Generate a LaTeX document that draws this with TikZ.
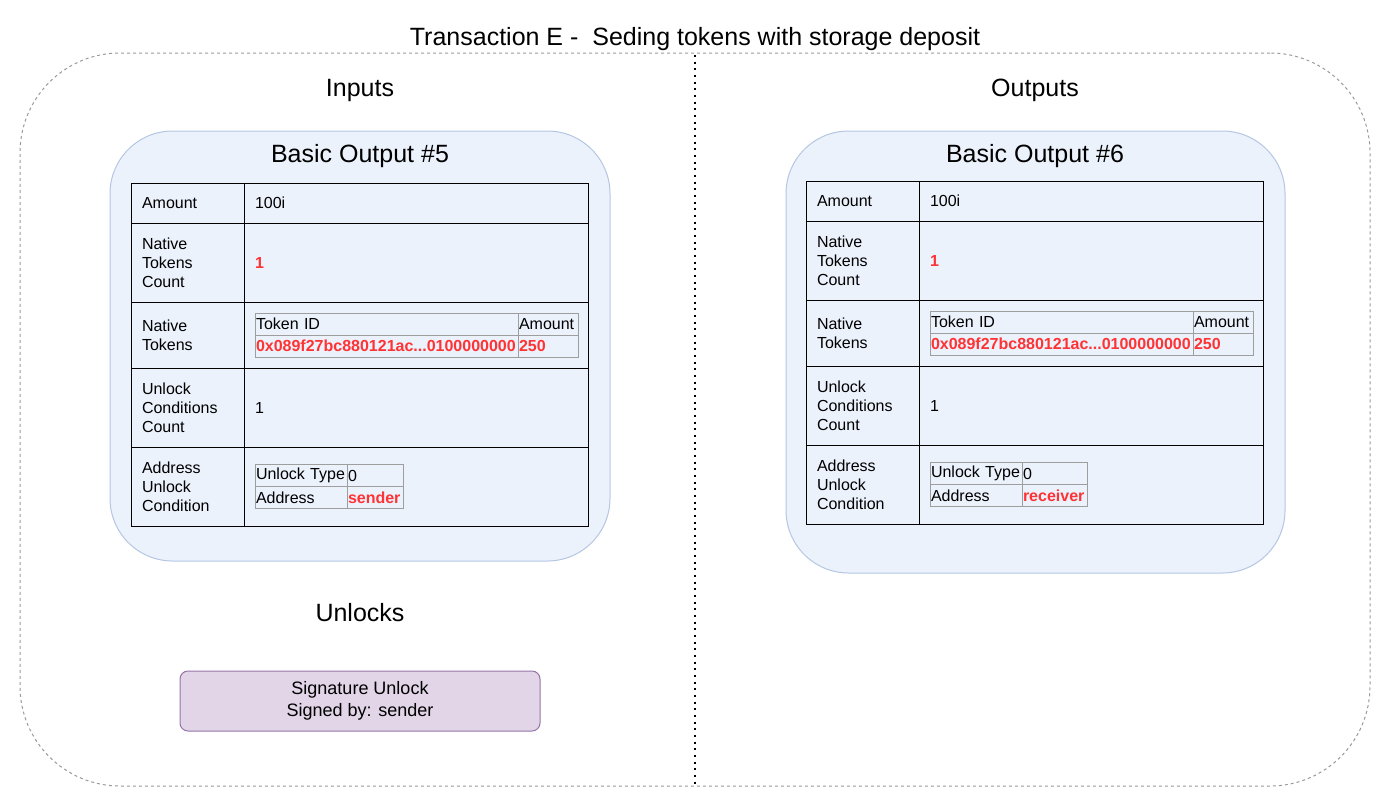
\documentclass[tikz,border=0pt]{standalone}
\usepackage{fontspec}
\setmainfont{Liberation Sans}
\usepackage{xcolor}
\usepackage{tikz}
\usetikzlibrary{positioning}

\definecolor{boxblue}{HTML}{ECF2FC}
\definecolor{boxline}{HTML}{B4C6E2}
\definecolor{tokred}{HTML}{FF3333}
\definecolor{cellgray}{HTML}{9E9E9E}
\definecolor{framegray}{HTML}{9A9A9A}
\definecolor{sigfill}{HTML}{E1D5E7}
\definecolor{sigline}{HTML}{9673A6}

\begin{document}
\begin{tikzpicture}[x=0.75pt,y=-0.75pt,
  every node/.style={font=\fontsize{12}{14.4}\selectfont},
  big/.style={font=\fontsize{18.75}{22}\selectfont,anchor=base},
  frame/.style={draw=framegray,line width=0.75pt,dash pattern=on 2.25pt off 2.25pt,rounded corners=75pt},
  outbox/.style={draw=boxline,fill=boxblue,line width=0.75pt,rounded corners=47pt},
  lcell/.style={draw,line width=0.75pt,text width=68.25pt,inner xsep=8.25pt,inner ysep=0pt,outer sep=0pt,align=left,minimum height=#1},
  vcell/.style={draw,line width=0.75pt,text width=241.5pt,inner xsep=8.25pt,inner ysep=0pt,outer sep=0pt,align=left,minimum height=#1},
  icell/.style={draw=cellgray,line width=0.75pt,text width=#1,inner xsep=0.75pt,inner ysep=0pt,outer sep=0pt,align=left,minimum height=16.5pt},
  sig/.style={draw=sigline,fill=sigfill,line width=0.75pt,rounded corners=6pt,align=center,minimum width=270pt,minimum height=45pt,font=\fontsize{13.5}{16.5}\selectfont}]
\useasboundingbox (0,0) rectangle (1391,808);

\node[big] (title) at (695,45) {Transaction E -\ \ Seding tokens with storage deposit};
\node[frame,minimum width=1012.5pt,minimum height=549.75pt] (frame) at (695,419.5) {};
\coordinate (top) at (695,55);
\coordinate (bot) at (695,786);
\draw[line width=1.5pt,dash pattern=on 1.5pt off 3.5pt] (top)--(bot);

\node[big] (inputs) at (360,96) {Inputs};
\node[big] (outputs) at (1035,96) {Outputs};

% basic output 5
\node[outbox,minimum width=375pt,minimum height=322.5pt] (box5) at (360,346) {};
\node[big] (bo5) at (360,162) {Basic Output \#5};
\node[lcell=30pt,anchor=north west] (amt5) at (131,183) {Amount};
\node[vcell=30pt,right=0pt of amt5] (amt5v) {100i};
\node[lcell=59.25pt,below=0pt of amt5] (ntc5) {Native\\Tokens\\Count};
\node[vcell=59.25pt,right=0pt of ntc5] (ntc5v) {\textcolor{tokred}{\textbf{1}}};
\node[lcell=49.5pt,below=0pt of ntc5] (nt5) {Native\\Tokens};
\node[vcell=49.5pt,right=0pt of nt5] (nt5v) {};
\node[lcell=59.25pt,below=0pt of nt5] (ucc5) {Unlock\\Conditions\\Count};
\node[vcell=59.25pt,right=0pt of ucc5] (ucc5v) {1};
\node[lcell=59.25pt,below=0pt of ucc5] (auc5) {Address\\Unlock\\Condition};
\node[vcell=59.25pt,right=0pt of auc5] (auc5v) {};

\node[icell=195.75pt,above right=0pt and 8.25pt of nt5v.west] (tid5) {Token ID};
\node[icell=43.5pt,right=0pt of tid5] (tam5) {Amount};
\node[icell=195.75pt,below=0pt of tid5] (tidv5) {\textcolor{tokred}{\textbf{0x089f27bc880121ac...0100000000}}};
\node[icell=43.5pt,below=0pt of tam5] (tamv5) {\textcolor{tokred}{\textbf{250}}};

\node[icell=67.5pt,above right=0pt and 8.25pt of auc5v.west] (ut5) {Unlock Type};
\node[icell=40.5pt,right=0pt of ut5] (utv5) {0};
\node[icell=67.5pt,below=0pt of ut5] (ad5) {Address};
\node[icell=40.5pt,below=0pt of utv5] (adv5) {\textcolor{tokred}{\textbf{sender}}};

% basic output 6
\node[outbox,minimum width=374.25pt,minimum height=331.5pt] (box6) at (1035.5,352) {};
\node[big] (bo6) at (1035,162) {Basic Output \#6};
\node[lcell=30pt,anchor=north west] (amt6) at (806,181) {Amount};
\node[vcell=30pt,right=0pt of amt6] (amt6v) {100i};
\node[lcell=59.25pt,below=0pt of amt6] (ntc6) {Native\\Tokens\\Count};
\node[vcell=59.25pt,right=0pt of ntc6] (ntc6v) {\textcolor{tokred}{\textbf{1}}};
\node[lcell=49.5pt,below=0pt of ntc6] (nt6) {Native\\Tokens};
\node[vcell=49.5pt,right=0pt of nt6] (nt6v) {};
\node[lcell=59.25pt,below=0pt of nt6] (ucc6) {Unlock\\Conditions\\Count};
\node[vcell=59.25pt,right=0pt of ucc6] (ucc6v) {1};
\node[lcell=59.25pt,below=0pt of ucc6] (auc6) {Address\\Unlock\\Condition};
\node[vcell=59.25pt,right=0pt of auc6] (auc6v) {};

\node[icell=195.75pt,above right=0pt and 8.25pt of nt6v.west] (tid6) {Token ID};
\node[icell=43.5pt,right=0pt of tid6] (tam6) {Amount};
\node[icell=195.75pt,below=0pt of tid6] (tidv6) {\textcolor{tokred}{\textbf{0x089f27bc880121ac...0100000000}}};
\node[icell=43.5pt,below=0pt of tam6] (tamv6) {\textcolor{tokred}{\textbf{250}}};

\node[icell=67.5pt,above right=0pt and 8.25pt of auc6v.west] (ut6) {Unlock Type};
\node[icell=47.25pt,right=0pt of ut6] (utv6) {0};
\node[icell=67.5pt,below=0pt of ut6] (ad6) {Address};
\node[icell=47.25pt,below=0pt of utv6] (adv6) {\textcolor{tokred}{\textbf{receiver}}};

% unlocks
\node[big] (unl) at (360,621) {Unlocks};
\node[sig] (sigu) at (360,701) {Signature Unlock\\Signed by: sender};
\end{tikzpicture}
\end{document}
